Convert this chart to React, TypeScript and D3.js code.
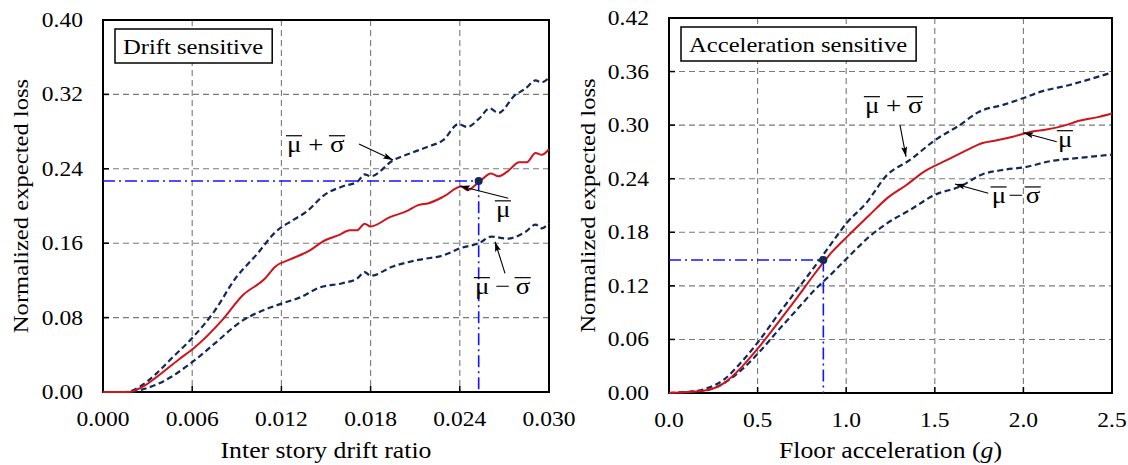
import * as d3 from 'd3';
import React, { useEffect, useRef } from 'react';

// ---- data ----
const driftTicks = [0, 0.006, 0.012, 0.018, 0.024, 0.03];
const driftLossTicks = [0, 0.08, 0.16, 0.24, 0.32, 0.4];
const accelTicks = [0, 0.5, 1.0, 1.5, 2.0, 2.5];
const accelLossTicks = [0, 0.06, 0.12, 0.18, 0.24, 0.3, 0.36, 0.42];

// drift sensitive: mean
const driftMeanX = [0, 0.0017, 0.0026, 0.0036, 0.0051, 0.0061, 0.008, 0.0094, 0.0109, 0.0116, 0.0125, 0.014, 0.0147, 0.0159, 0.0166, 0.0171, 0.0176, 0.018, 0.0193, 0.0205, 0.0212, 0.0219, 0.0229, 0.0241, 0.0245, 0.0253, 0.0261, 0.0266, 0.0272, 0.028, 0.0285, 0.0291, 0.0295, 0.03];
const driftMeanY = [0, 0, 0.005, 0.016, 0.035, 0.047, 0.077, 0.104, 0.122, 0.135, 0.142, 0.153, 0.161, 0.169, 0.174, 0.174, 0.181, 0.178, 0.188, 0.195, 0.201, 0.203, 0.21, 0.221, 0.217, 0.226, 0.235, 0.232, 0.237, 0.247, 0.247, 0.257, 0.255, 0.261];
// drift sensitive: mean + sigma
const driftUpperX = [0, 0.0016, 0.0025, 0.0036, 0.0046, 0.006, 0.0075, 0.0089, 0.0104, 0.0116, 0.0128, 0.0137, 0.0149, 0.0161, 0.0171, 0.0176, 0.018, 0.0195, 0.0209, 0.0219, 0.0229, 0.0239, 0.0245, 0.0253, 0.026, 0.0266, 0.0277, 0.0284, 0.0291, 0.0295, 0.03];
const driftUpperY = [0, 0, 0.006, 0.02, 0.036, 0.058, 0.087, 0.122, 0.149, 0.172, 0.185, 0.194, 0.212, 0.221, 0.226, 0.234, 0.232, 0.249, 0.258, 0.264, 0.271, 0.288, 0.285, 0.294, 0.305, 0.3, 0.319, 0.326, 0.335, 0.333, 0.338];
// drift sensitive: mean - sigma
const driftLowerX = [0, 0.0018, 0.0027, 0.0036, 0.006, 0.0075, 0.0094, 0.0108, 0.012, 0.0133, 0.0145, 0.0161, 0.0171, 0.0176, 0.018, 0.0195, 0.0212, 0.0229, 0.0241, 0.0253, 0.0261, 0.0272, 0.0284, 0.0291, 0.0295, 0.03];
const driftLowerY = [0, 0, 0.003, 0.008, 0.032, 0.052, 0.077, 0.088, 0.095, 0.102, 0.112, 0.117, 0.122, 0.129, 0.125, 0.135, 0.142, 0.147, 0.155, 0.16, 0.167, 0.165, 0.172, 0.18, 0.176, 0.182];

// acceleration sensitive: mean
const accelMeanX = [0, 0.1, 0.21, 0.31, 0.41, 0.51, 0.62, 0.72, 0.82, 0.87, 0.92, 1.01, 1.13, 1.23, 1.34, 1.44, 1.57, 1.68, 1.77, 1.85, 1.94, 2.05, 2.13, 2.24, 2.3, 2.42, 2.5];
const accelMeanY = [0, 0.001, 0.003, 0.011, 0.029, 0.052, 0.08, 0.106, 0.133, 0.146, 0.158, 0.176, 0.199, 0.218, 0.233, 0.248, 0.261, 0.272, 0.28, 0.283, 0.287, 0.293, 0.295, 0.3, 0.304, 0.309, 0.313];
// acceleration sensitive: mean + sigma
const accelUpperX = [0, 0.1, 0.21, 0.31, 0.41, 0.51, 0.62, 0.72, 0.82, 0.9, 1.01, 1.11, 1.23, 1.36, 1.5, 1.64, 1.75, 1.89, 2.01, 2.09, 2.26, 2.5];
const accelUpperY = [0, 0.001, 0.005, 0.015, 0.035, 0.059, 0.089, 0.115, 0.141, 0.163, 0.192, 0.212, 0.244, 0.261, 0.283, 0.3, 0.315, 0.323, 0.331, 0.337, 0.345, 0.359];
// acceleration sensitive: mean - sigma
const accelLowerX = [0, 0.1, 0.21, 0.31, 0.41, 0.51, 0.62, 0.72, 0.82, 0.92, 1.03, 1.13, 1.23, 1.36, 1.5, 1.64, 1.77, 1.89, 2.01, 2.16, 2.3, 2.5];
const accelLowerY = [0, 0.001, 0.003, 0.011, 0.026, 0.046, 0.071, 0.093, 0.115, 0.134, 0.156, 0.175, 0.19, 0.205, 0.222, 0.231, 0.245, 0.25, 0.253, 0.26, 0.263, 0.267];

// design points marked with the blue dash-dot guides
const driftPoint = [0.02527, 0.2269];
const accelPoint = [0.871, 0.149];

const FONT = '"Liberation Serif", "Times New Roman", serif';
const SX = 1.12; // reference glyphs are a bit wider than Liberation Serif
const NAVY = '#13295a';
const RED = '#d0141c';
const BLUE = '#1414ff';

const zip = (xs, ys) => xs.map((x, i) => [x, ys[i]]);

export default function App() {
  const svgRef = useRef(null);

  useEffect(() => {
    const svg = d3.select(svgRef.current);
    svg.selectAll('*').remove();

    const defs = svg.append('defs');
    defs.append('marker')
      .attr('id', 'arrowHead')
      .attr('viewBox', '0 0 10 6')
      .attr('refX', 10).attr('refY', 3)
      .attr('markerWidth', 10).attr('markerHeight', 6)
      .attr('markerUnits', 'userSpaceOnUse')
      .attr('orient', 'auto')
      .append('path').attr('d', 'M0,0 L10,3 L0,6 L2,3 z').attr('fill', '#000');

    // text stretched along its own direction
    function sText(g, x, y, str, size, anchor, rot = 0) {
      return g.append('text')
        .attr('transform', `translate(${x},${y}) rotate(${rot}) scale(${SX},1)`)
        .attr('text-anchor', anchor)
        .style('font-family', FONT)
        .style('font-size', `${size}px`)
        .attr('fill', '#000')
        .text(str);
    }

    // mu-bar op sigma-bar label
    function barLabel(g, x, y, op, gap) {
      const fs = 24;
      const lg = g.append('g').attr('transform', `translate(${x},${y}) scale(${SX},1)`);
      const parts = op ? ['μ', op, 'σ'] : ['μ'];
      let cx = 0;
      parts.forEach((p) => {
        const t = lg.append('text').attr('x', cx).attr('y', 0)
          .style('font-family', FONT).style('font-size', `${fs}px`).text(p);
        const w = t.node().getComputedTextLength();
        if (p === 'μ' || p === 'σ') {
          lg.append('line')
            .attr('x1', cx - 1).attr('x2', cx + w + 0.5)
            .attr('y1', -fs * 0.68).attr('y2', -fs * 0.68)
            .attr('stroke', '#000').attr('stroke-width', 1.2);
        }
        cx += w + gap;
      });
    }

    function drawPanel(cfg) {
      const x = d3.scaleLinear().domain(cfg.xDomain).range([cfg.left, cfg.right]);
      const y = d3.scaleLinear().domain(cfg.yDomain).range([cfg.bottom, cfg.top]);
      const g = svg.append('g');

      // grid
      g.selectAll('.gx').data(cfg.xTicks.slice(1, -1)).join('line')
        .attr('x1', (d) => x(d)).attr('x2', (d) => x(d))
        .attr('y1', cfg.top).attr('y2', cfg.bottom)
        .attr('stroke', '#7a7a7a').attr('stroke-width', 1.1).attr('stroke-dasharray', '6,4');
      g.selectAll('.gy').data(cfg.yTicks.slice(1, -1)).join('line')
        .attr('x1', cfg.left).attr('x2', cfg.right)
        .attr('y1', (d) => y(d)).attr('y2', (d) => y(d))
        .attr('stroke', '#7a7a7a').attr('stroke-width', 1.1).attr('stroke-dasharray', '6,4');

      // frame + inner ticks
      g.append('rect').attr('x', cfg.left).attr('y', cfg.top)
        .attr('width', cfg.right - cfg.left).attr('height', cfg.bottom - cfg.top)
        .attr('fill', 'none').attr('stroke', '#000').attr('stroke-width', 2);
      g.selectAll('.tx').data(cfg.xTicks.slice(1, -1)).join('line')
        .attr('x1', (d) => x(d)).attr('x2', (d) => x(d))
        .attr('y1', cfg.bottom).attr('y2', cfg.bottom - 6)
        .attr('stroke', '#000').attr('stroke-width', 1.5);
      g.selectAll('.ty').data(cfg.yTicks.slice(1, -1)).join('line')
        .attr('x1', cfg.left).attr('x2', cfg.left + 6)
        .attr('y1', (d) => y(d)).attr('y2', (d) => y(d))
        .attr('stroke', '#000').attr('stroke-width', 1.5);

      // dash-dot guides
      const [px, py] = cfg.point;
      g.append('path')
        .attr('d', `M${x(cfg.xDomain[0])},${y(py)}H${x(px)}V${y(cfg.yDomain[0])}`)
        .attr('fill', 'none').attr('stroke', BLUE).attr('stroke-width', 1.6)
        .attr('stroke-dasharray', '12,4,2,4');

      // curves (on top of the frame, like the original)
      const line = d3.line().x((d) => x(d[0])).y((d) => y(d[1])).curve(d3.curveMonotoneX);
      cfg.bands.forEach((b) => {
        g.append('path').attr('d', line(b)).attr('fill', 'none')
          .attr('stroke', NAVY).attr('stroke-width', 2.2).attr('stroke-dasharray', '6,3.5');
      });
      g.append('path').attr('d', line(cfg.mean)).attr('fill', 'none')
        .attr('stroke', RED).attr('stroke-width', 2);

      g.append('circle').attr('cx', x(px)).attr('cy', y(py)).attr('r', 4).attr('fill', NAVY);

      // tick labels
      cfg.xTicks.forEach((t) => sText(g, x(t), cfg.bottom + 34, cfg.xFmt(t), 21, 'middle'));
      cfg.yTicks.forEach((t) => sText(g, cfg.left - 20, y(t) + 7, cfg.yFmt(t), 21, 'end'));

      // axis titles
      const xt = sText(g, (cfg.left + cfg.right) / 2, 458, '', 23, 'middle');
      cfg.xTitle.forEach((p) => xt.append('tspan').style('font-style', p.italic ? 'italic' : 'normal').text(p.t));
      sText(g, cfg.yTitleX, (cfg.top + cfg.bottom) / 2, 'Normalized expected loss', 22, 'middle', -90);

      // panel name box
      const bx = cfg.left + 12, by = cfg.top + 9;
      const box = g.append('rect').attr('x', bx).attr('y', by).attr('height', 34)
        .attr('fill', '#fff').attr('stroke', '#000').attr('stroke-width', 1.5);
      const bt = sText(g, bx + 8, by + 25, cfg.name, 22, 'start');
      box.attr('width', bt.node().getComputedTextLength() * SX + 17);

      // curve annotations
      cfg.notes.forEach((n) => {
        barLabel(g, x(n.at[0]), y(n.at[1]), n.op, n.gap);
        g.append('line')
          .attr('x1', x(n.from[0])).attr('y1', y(n.from[1]))
          .attr('x2', x(n.to[0])).attr('y2', y(n.to[1]))
          .attr('stroke', '#000').attr('stroke-width', 1.1)
          .attr('marker-end', 'url(#arrowHead)');
      });
    }

    drawPanel({
      left: 103, right: 549, top: 20, bottom: 392, yTitleX: 28,
      xDomain: [0, 0.03], yDomain: [0, 0.4],
      xTicks: driftTicks, yTicks: driftLossTicks,
      xFmt: d3.format('.3f'), yFmt: d3.format('.2f'),
      xTitle: [{ t: 'Inter story drift ratio' }],
      name: 'Drift sensitive',
      point: driftPoint,
      mean: zip(driftMeanX, driftMeanY),
      bands: [zip(driftUpperX, driftUpperY), zip(driftLowerX, driftLowerY)],
      notes: [
        { at: [0.01238, 0.258], op: '+', gap: 6, from: [0.01722, 0.2667], to: [0.01951, 0.2495] },
        { at: [0.02643, 0.188], op: null, gap: 0, from: [0.02726, 0.2083], to: [0.02401, 0.2215] },
        { at: [0.02502, 0.1054], op: '−', gap: 5, from: [0.02704, 0.1276], to: [0.02637, 0.1616] },
      ],
    });

    drawPanel({
      left: 669, right: 1112, top: 18, bottom: 393, yTitleX: 595,
      xDomain: [0, 2.5], yDomain: [0, 0.42],
      xTicks: accelTicks, yTicks: accelLossTicks,
      xFmt: d3.format('.1f'), yFmt: d3.format('.2f'),
      xTitle: [{ t: 'Floor acceleration (' }, { t: 'g', italic: true }, { t: ')' }],
      name: 'Acceleration sensitive',
      point: accelPoint,
      mean: zip(accelMeanX, accelMeanY),
      bands: [zip(accelUpperX, accelUpperY), zip(accelLowerX, accelLowerY)],
      notes: [
        { at: [1.106, 0.3136], op: '+', gap: 6, from: [1.3036, 0.3], to: [1.3375, 0.2647] },
        { at: [2.195, 0.2755], op: null, gap: 0, from: [2.188, 0.2815], to: [2.0, 0.2915] },
        { at: [1.821, 0.2125], op: '−', gap: 2, from: [1.802, 0.2237], to: [1.614, 0.234] },
      ],
    });
  }, []);

  return (
    <svg ref={svgRef} width={1128} height={465}
      style={{ position: 'absolute', left: 0, top: 0, background: '#fff' }} />
  );
}
